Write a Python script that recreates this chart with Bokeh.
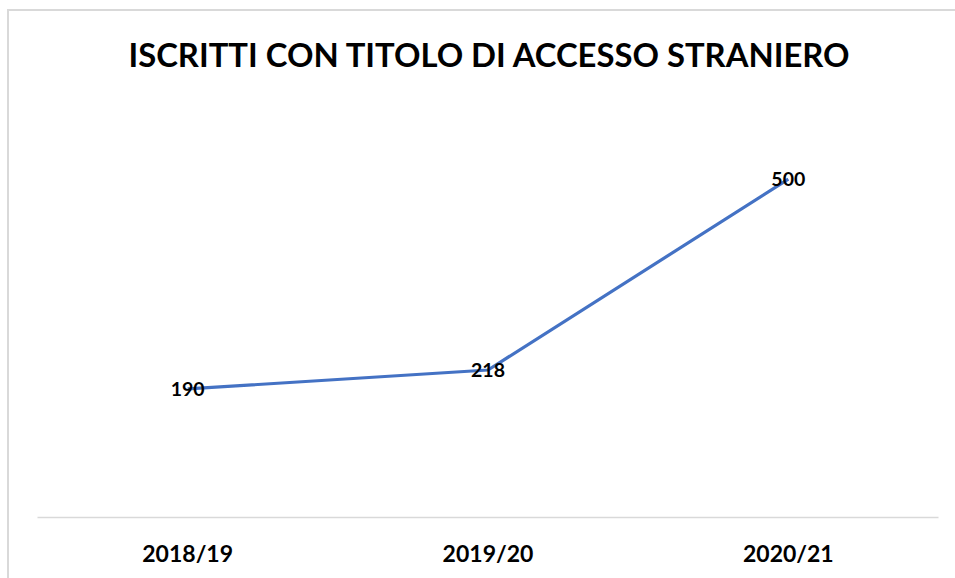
from bokeh.plotting import figure
from bokeh.models import ColumnDataSource, LabelSet, FactorRange, Range1d, Div
from bokeh.layouts import column
from bokeh.core.properties import value
from bokeh.embed import file_html
from bokeh.resources import INLINE

title_text = "ISCRITTI CON TITOLO DI ACCESSO STRANIERO"
years = ["2018/19", "2019/20", "2020/21"]
iscritti = [190, 218, 500]
labels = [str(v) for v in iscritti]

source = ColumnDataSource(data=dict(years=years, iscritti=iscritti, labels=labels))

title_div = Div(
    text=("<div style=\"position:relative; left:2px; width:946px; text-align:center; "
          "font-family:Lato; font-weight:bold; font-size:32.8px; line-height:1; "
          "padding-top:23px; color:#000000; white-space:nowrap;\">" + title_text + "</div>"),
    width=946, height=60)

p = figure(width=946, height=497,
           x_range=FactorRange(factors=years, range_padding=0),
           y_range=Range1d(0, 600),
           output_backend="svg", toolbar_location=None,
           min_border_left=28, min_border_right=17,
           min_border_top=30, min_border_bottom=61)

p.line(x="years", y="iscritti", source=source, line_width=3.2, line_color="#4472C4")

lab = LabelSet(x="years", y="iscritti", text="labels", source=source,
               text_align="center", text_baseline="middle",
               text_font=value("Lato"), text_font_style="bold",
               text_font_size="19.5px", text_color="#000000")
p.add_layout(lab)

p.yaxis.visible = False
p.grid.visible = False
p.outline_line_color = None
p.xaxis.axis_line_color = "#d9d9d9"
p.xaxis.axis_line_width = 1.5
p.xaxis.major_tick_line_color = None
p.xaxis.minor_tick_line_color = None
p.xaxis.major_label_text_font = "Lato"
p.xaxis.major_label_text_font_style = "bold"
p.xaxis.major_label_text_font_size = "23px"
p.xaxis.major_label_text_color = "#000000"
p.xaxis.major_label_standoff = 15

layout = column(title_div, p, spacing=0,
                styles={"margin-left": "7px", "margin-top": "9px",
                        "border-left": "2px solid #d9d9d9", "border-top": "2px solid #d9d9d9"})

open("out.html", "w").write(file_html(layout, INLINE))
